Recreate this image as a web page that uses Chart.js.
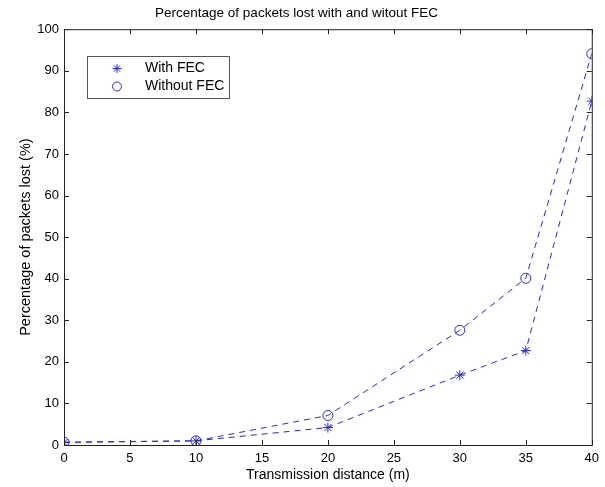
<!DOCTYPE html>
<html lang="en">
<head>
<meta charset="UTF-8">
<title>Percentage of packets lost</title>
<script src="https://cdn.jsdelivr.net/npm/chart.js"></script>
<style>
  html, body { margin: 0; padding: 0; background: #fff; }
  #wrap { width: 605px; height: 487px; }
</style>
</head>
<body>
<div id="wrap"><canvas id="fecChart" width="605" height="487"></canvas></div>
<script>
// data
const distances = [0, 10, 20, 30, 35, 40];
const withFec = [0.6, 1.0, 4.2, 16.8, 22.7, 82.7];
const withoutFec = [0.7, 1.0, 7.1, 27.6, 40.1, 94.1];
const xTicks = [0, 5, 10, 15, 20, 25, 30, 35, 40];
const yTicks = [0, 10, 20, 30, 40, 50, 60, 70, 80, 90, 100];

const FONT = 'Liberation Sans, Arial, Helvetica, sans-serif';
const BLUE = 'rgb(40, 40, 230)';

function toPoints(vals) {
  return distances.map((d, i) => ({ x: d, y: vals[i] }));
}

// MATLAB style box with inward ticks, plus the legend box
const boxPlugin = {
  id: 'box',
  afterDraw(chart) {
    const { ctx, chartArea: a, scales } = chart;
    ctx.save();
    ctx.strokeStyle = '#222';
    ctx.lineWidth = 1;
    ctx.strokeRect(a.left + 0.5, a.top + 0.5, a.right - a.left, a.bottom - a.top);
    ctx.beginPath();
    xTicks.forEach(v => {
      const px = Math.round(scales.x.getPixelForValue(v)) + 0.5;
      ctx.moveTo(px, a.bottom); ctx.lineTo(px, a.bottom - 5);
      ctx.moveTo(px, a.top); ctx.lineTo(px, a.top + 5);
    });
    yTicks.forEach(v => {
      const py = Math.round(scales.y.getPixelForValue(v)) + 0.5;
      ctx.moveTo(a.left, py); ctx.lineTo(a.left + 5, py);
      ctx.moveTo(a.right, py); ctx.lineTo(a.right - 5, py);
    });
    ctx.stroke();

    // legend
    const lx = 87.5, ly = 56.5, lw = 142, lh = 42;
    ctx.fillStyle = '#fff';
    ctx.fillRect(lx, ly, lw, lh);
    ctx.strokeStyle = '#555';
    ctx.strokeRect(lx, ly, lw, lh);
    chart.data.datasets.forEach((ds, i) => {
      const cy = ly + 12 + i * 18;
      ctx.strokeStyle = BLUE;
      ctx.fillStyle = 'rgba(0,0,0,0)';
      ctx.lineWidth = 1;
      Chart.helpers.drawPoint(ctx, { pointStyle: ds.pointStyle, radius: 4.5, borderWidth: 1 }, 117, cy);
      ctx.fillStyle = '#000';
      ctx.font = '14px ' + FONT;
      ctx.textBaseline = 'middle';
      ctx.fillText(ds.label, 145, cy);
    });
    ctx.restore();
  }
};

new Chart(document.getElementById('fecChart'), {
  type: 'line',
  data: {
    datasets: [{
      label: 'With FEC',
      data: toPoints(withFec),
      borderColor: BLUE,
      backgroundColor: 'transparent',
      borderWidth: 1,
      borderDash: [6, 5],
      pointStyle: 'star',
      pointRadius: 5,
      pointBorderWidth: 1,
      pointBorderColor: BLUE,
      tension: 0
    }, {
      label: 'Without FEC',
      data: toPoints(withoutFec),
      borderColor: BLUE,
      backgroundColor: 'transparent',
      borderWidth: 1,
      borderDash: [6, 5],
      pointStyle: 'circle',
      pointRadius: 5,
      pointBorderWidth: 1,
      pointBorderColor: BLUE,
      pointBackgroundColor: 'transparent',
      tension: 0
    }]
  },
  options: {
    responsive: false,
    animation: false,
    layout: { padding: { left: 0, right: 12, top: 0, bottom: 0 } },
    plugins: {
      legend: { display: false },
      tooltip: { enabled: false },
      title: {
        display: true,
        text: 'Percentage of packets lost with and witout FEC',
        color: '#000',
        font: { family: FONT, size: 13.5, weight: 'normal' },
        padding: { top: 5, bottom: 8 }
      }
    },
    scales: {
      x: {
        type: 'linear',
        min: 0, max: 40,
        afterBuildTicks(scale) { scale.ticks = xTicks.map(v => ({ value: v })); },
        afterFit(scale) { scale.height = 42; },
        grid: { display: false, drawTicks: false },
        border: { display: false },
        ticks: { color: '#000', padding: 6, maxRotation: 0, font: { family: FONT, size: 13 } },
        title: {
          display: true,
          text: 'Transmission distance (m)',
          color: '#000',
          padding: { top: 0, bottom: 3 },
          font: { family: FONT, size: 14 }
        }
      },
      y: {
        min: 0, max: 100,
        afterBuildTicks(scale) { scale.ticks = yTicks.map(v => ({ value: v })); },
        afterFit(scale) { scale.width = 64; },
        grid: { display: false, drawTicks: false },
        border: { display: false },
        ticks: { color: '#000', padding: 5, font: { family: FONT, size: 13 } },
        title: {
          display: true,
          text: 'Percentage of packets lost (%)',
          color: '#000',
          padding: { top: 17, bottom: 0 },
          font: { family: FONT, size: 14.5 }
        }
      }
    }
  },
  plugins: [boxPlugin]
});
</script>
</body>
</html>
